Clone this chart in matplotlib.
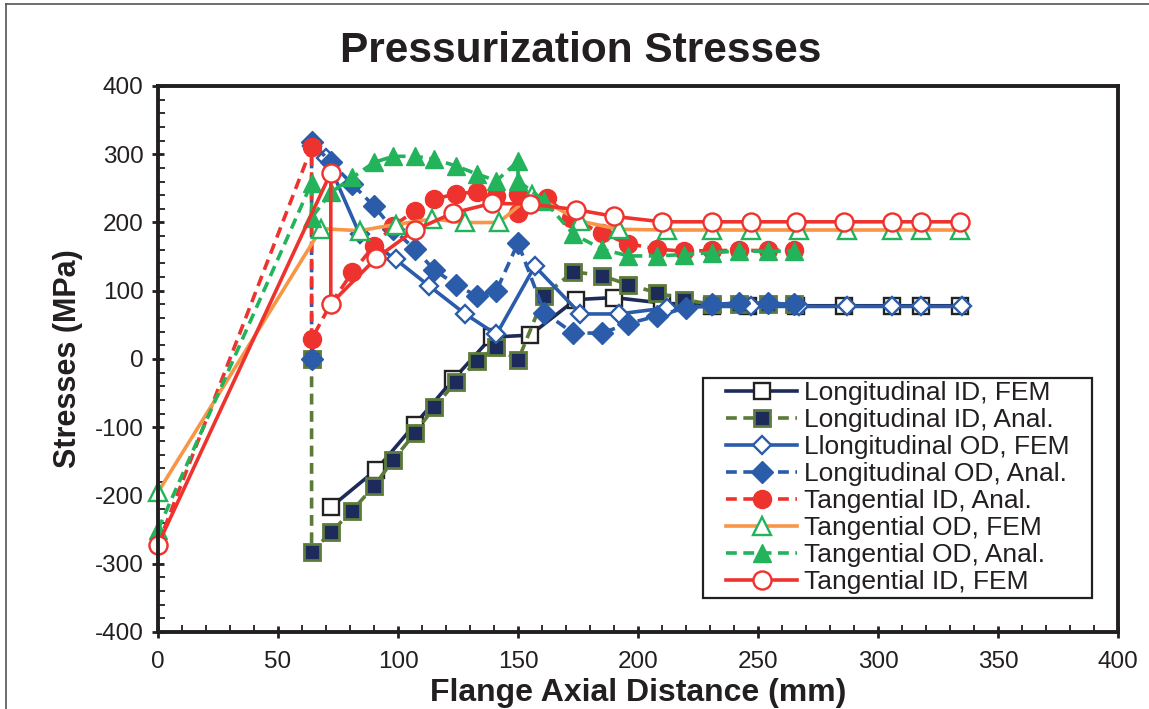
import matplotlib
matplotlib.use('Agg')
import matplotlib.pyplot as plt
from matplotlib.lines import Line2D
from matplotlib.patches import Rectangle
from matplotlib.ticker import MultipleLocator

plt.rcParams['font.family'] = ['Liberation Sans', 'DejaVu Sans']
plt.rcParams['axes.unicode_minus'] = False

# values
long_id_fem_x = [72, 91, 107, 123, 139, 155, 174, 190, 210, 231, 246, 266, 286, 306, 318, 334]
long_id_fem_y = [-217, -162, -96, -30, 32, 35, 87, 90, 82, 78, 78, 78, 78, 78, 78, 78]

long_id_anal_x = [64, 64, 72, 81, 90, 98, 107, 115, 124, 133, 141, 150, 161, 173, 185, 196,
                  208, 219, 231, 242, 254, 265]
long_id_anal_y = [0, -283, -254, -222, -186, -148, -109, -71, -34, -3, 18, -2, 93, 128, 122, 109,
                  97, 87, 80, 80, 80, 80]

long_od_fem_x = [64, 70, 84, 99, 113, 128, 141, 157, 176, 192, 212, 231, 247, 267, 287, 306, 318, 335]
long_od_fem_y = [312, 295, 183, 146, 107, 66, 36, 136, 66, 66, 75, 77, 77, 77, 77, 77, 77, 77]

long_od_anal_x = [64, 64, 72, 81, 90, 98, 107, 115, 124, 133, 141, 150, 161, 173, 185, 196,
                  208, 220, 231, 242, 254, 265]
long_od_anal_y = [0, 318, 288, 256, 224, 190, 161, 131, 109, 92, 100, 170, 68, 38, 38, 52,
                  63, 75, 80, 82, 82, 80]

tan_id_anal_x = [0, 64, 64, 72, 81, 90, 98, 107, 115, 124, 133, 141, 150, 150, 162, 172,
                 185, 196, 208, 219, 231, 242, 254, 265]
tan_id_anal_y = [-272, 310, 29, 81, 127, 166, 195, 217, 234, 242, 245, 239, 242, 214, 236, 207,
                 184, 169, 161, 158, 159, 159, 159, 160]

tan_od_fem_x = [0, 68, 84, 99, 114, 128, 142, 156, 176, 192, 212, 231, 247, 267, 287, 306, 318, 334]
tan_od_fem_y = [-195, 191, 188, 197, 205, 200, 200, 241, 202, 190, 189, 189, 189, 189, 189, 189, 189, 189]

tan_od_anal_x = [0, 64, 64, 72, 81, 90, 98, 107, 115, 124, 133, 141, 150, 150, 161, 173,
                 185, 196, 208, 219, 231, 242, 254, 265]
tan_od_anal_y = [-250, 258, 207, 244, 266, 288, 297, 297, 293, 283, 271, 261, 290, 261, 232, 183,
                 161, 151, 151, 153, 156, 158, 158, 158]

tan_id_fem_x = [0, 72, 72, 91, 107, 123, 139, 155, 174, 190, 210, 231, 247, 266, 286, 306, 318, 334]
tan_id_fem_y = [-272, 273, 81, 148, 189, 214, 228, 227, 219, 209, 201, 201, 201, 201, 201, 201, 201, 201]

NAVY = '#1c2b5a'
OLIVE = '#5c7a3a'
BLUE = '#2a5caa'
RED = '#ee332e'
ORANGE = '#f79646'
GREEN = '#23b35b'
INK = '#231f20'
DASH = (3.0, 1.8)
W, H = 1149, 709

fig = plt.figure(figsize=(W / 100, H / 100), dpi=100)
ax = fig.add_axes([158 / W, 1 - 632 / H, 960 / W, 546 / H])

lw = 2.6
common = dict(lw=lw, clip_on=False)
ax.plot(long_id_fem_x, long_id_fem_y, color=NAVY, marker='s', ms=12,
        mfc='white', mec='#222222', mew=1.7, label='Longitudinal ID, FEM', **common)
ax.plot(long_id_anal_x, long_id_anal_y, color=OLIVE, dashes=DASH, marker='s', ms=12,
        mfc=NAVY, mec=OLIVE, mew=2.0, label='Longitudinal ID, Anal.', **common)
ax.plot(long_od_fem_x, long_od_fem_y, color=BLUE, marker='D', ms=9,
        mfc='white', mec=BLUE, mew=1.7, label='Llongitudinal OD, FEM', **common)
ax.plot(long_od_anal_x, long_od_anal_y, color=BLUE, dashes=DASH, marker='D', ms=11,
        mfc=BLUE, mec=BLUE, label='Longitudinal OD, Anal.', **common)
ax.plot(tan_id_anal_x, tan_id_anal_y, color=RED, dashes=DASH, marker='o', ms=13,
        mfc=RED, mec=RED, label='Tangential ID, Anal.', **common)
ax.plot(tan_od_fem_x, tan_od_fem_y, color=ORANGE, marker='^', ms=13,
        mfc='white', mec=GREEN, mew=1.7, label='Tangential OD, FEM', **common)
ax.plot(tan_od_anal_x, tan_od_anal_y, color=GREEN, dashes=DASH, marker='^', ms=13,
        mfc=GREEN, mec=GREEN, label='Tangential OD, Anal.', **common)
ax.plot(tan_id_fem_x, tan_id_fem_y, color=RED, marker='o', ms=13,
        mfc='white', mec=RED, mew=1.7, label='Tangential ID, FEM', **common)

ax.set_xlim(0, 400)
ax.set_ylim(-400, 400)
ax.xaxis.set_major_locator(MultipleLocator(50))
ax.xaxis.set_minor_locator(MultipleLocator(10))
ax.yaxis.set_major_locator(MultipleLocator(100))
ax.yaxis.set_minor_locator(MultipleLocator(20))
ax.tick_params(which='major', direction='inout', length=9, width=2, labelsize=17.5,
               colors=INK, pad=6)
ax.tick_params(which='minor', direction='in', length=5, width=1.3, colors=INK)
ax.tick_params(axis='x', which='major', pad=9)
for s in ax.spines.values():
    s.set_linewidth(2.8)
    s.set_color(INK)

ax.set_xlabel('Flange Axial Distance (mm)', fontsize=23, fontweight='bold', labelpad=4,
              color=INK)
ax.set_ylabel('Stresses (MPa)', fontsize=22, fontweight='bold', labelpad=8, color=INK)
fig.text(0.505, 0.928, 'Pressurization Stresses', fontsize=30.5, fontweight='bold',
         ha='center', va='center', color=INK)

# legend entries without frame, frame drawn separately to match the reference box
leg = ax.legend(loc='upper left', bbox_to_anchor=(726 / W, 1 - 381 / H),
                bbox_transform=fig.transFigure, borderaxespad=0, borderpad=0,
                fontsize=19, frameon=False, handlelength=2.7, labelspacing=0.115,
                handletextpad=0.27)
for t in leg.get_texts():
    t.set_color(INK)
fig.add_artist(Rectangle((703 / W, 1 - 598 / H), (1092 - 703) / W, (598 - 378) / H,
                         transform=fig.transFigure, fill=False, edgecolor=INK, lw=1.6))

# outer chart border (only top and left visible in the reference)
fig.add_artist(Line2D([6 / W, 6 / W], [0, 1 - 4 / H], transform=fig.transFigure,
                      color='#555555', lw=1.2))
fig.add_artist(Line2D([6 / W, 1], [1 - 4 / H, 1 - 4 / H], transform=fig.transFigure,
                      color='#555555', lw=1.2))

fig.savefig('out.png', dpi=100)
plt.close(fig)
print("Saved: out.png")
